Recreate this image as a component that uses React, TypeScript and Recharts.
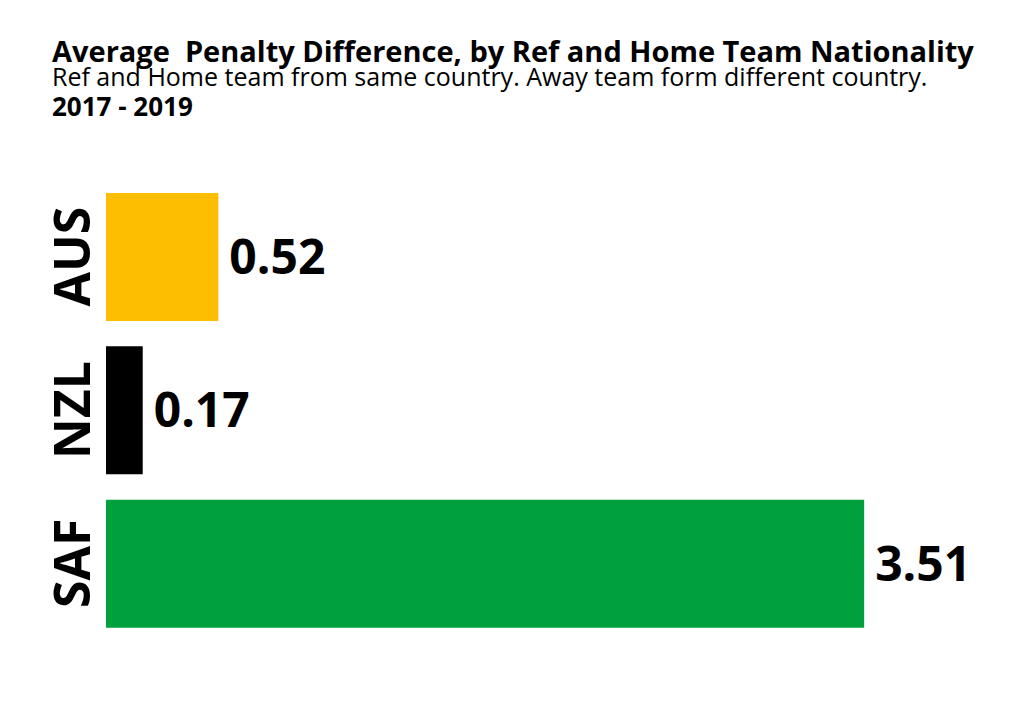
import React from 'react'
import { BarChart, Bar, XAxis, YAxis, Cell, LabelList } from 'recharts'

const teams = ['AUS', 'NZL', 'SAF']
const penaltyDiff = [0.52, 0.17, 3.51]
const barColors = ['#FDBD00', '#000000', '#00A13D']

const data = teams.map((team, i) => ({ team, value: penaltyDiff[i] }))

const FONT = '"Open Sans", "Liberation Sans", sans-serif'

const TeamTick = (props: any) => {
  const { y, payload } = props
  return (
    <g transform={`translate(90, ${y}) rotate(-90)`}>
      <text x={0} y={0} textAnchor="middle" fontFamily={FONT} fontWeight={700} fontSize={50} fill="#000">
        {payload.value}
      </text>
    </g>
  )
}

const ValueLabel = (props: any) => {
  const { x, y, width, height, value } = props
  return (
    <text
      x={x + width + 11}
      y={y + height / 2 + 17}
      fontFamily={FONT}
      fontWeight={700}
      fontSize={48}
      fill="#000"
    >
      {Number(value).toFixed(2)}
    </text>
  )
}

export default function App() {
  return (
    <div style={{ position: 'absolute', left: 0, top: 0, width: 1024, height: 724, background: '#fff' }}>
      <svg width={1024} height={140} style={{ position: 'absolute', left: 0, top: 0 }}>
        <text x={52} y={62} fontFamily={FONT} fontWeight={700} fontSize={29} fill="#000" style={{ whiteSpace: 'pre' }}>
          Average  Penalty Difference, by Ref and Home Team Nationality
        </text>
        <text x={52} y={86} fontFamily={FONT} fontSize={25} fill="#000">
          Ref and Home team from same country. Away team form different country.
        </text>
        <text x={52} y={116} fontFamily={FONT} fontWeight={700} fontSize={26} fill="#000">
          2017 - 2019
        </text>
      </svg>
      <div style={{ position: 'absolute', left: 0, top: 0 }}>
        <BarChart
          width={1024}
          height={724}
          data={data}
          layout="vertical"
          margin={{ top: 180, right: 54, bottom: 84, left: 0 }}
        >
          <XAxis type="number" domain={[0, 4]} hide />
          <YAxis
            type="category"
            dataKey="team"
            width={106}
            axisLine={false}
            tickLine={false}
            tick={<TeamTick />}
          />
          <Bar dataKey="value" barSize={128} isAnimationActive={false}>
            {data.map((d, i) => (
              <Cell key={d.team} fill={barColors[i]} />
            ))}
            <LabelList dataKey="value" content={<ValueLabel />} />
          </Bar>
        </BarChart>
      </div>
    </div>
  )
}
